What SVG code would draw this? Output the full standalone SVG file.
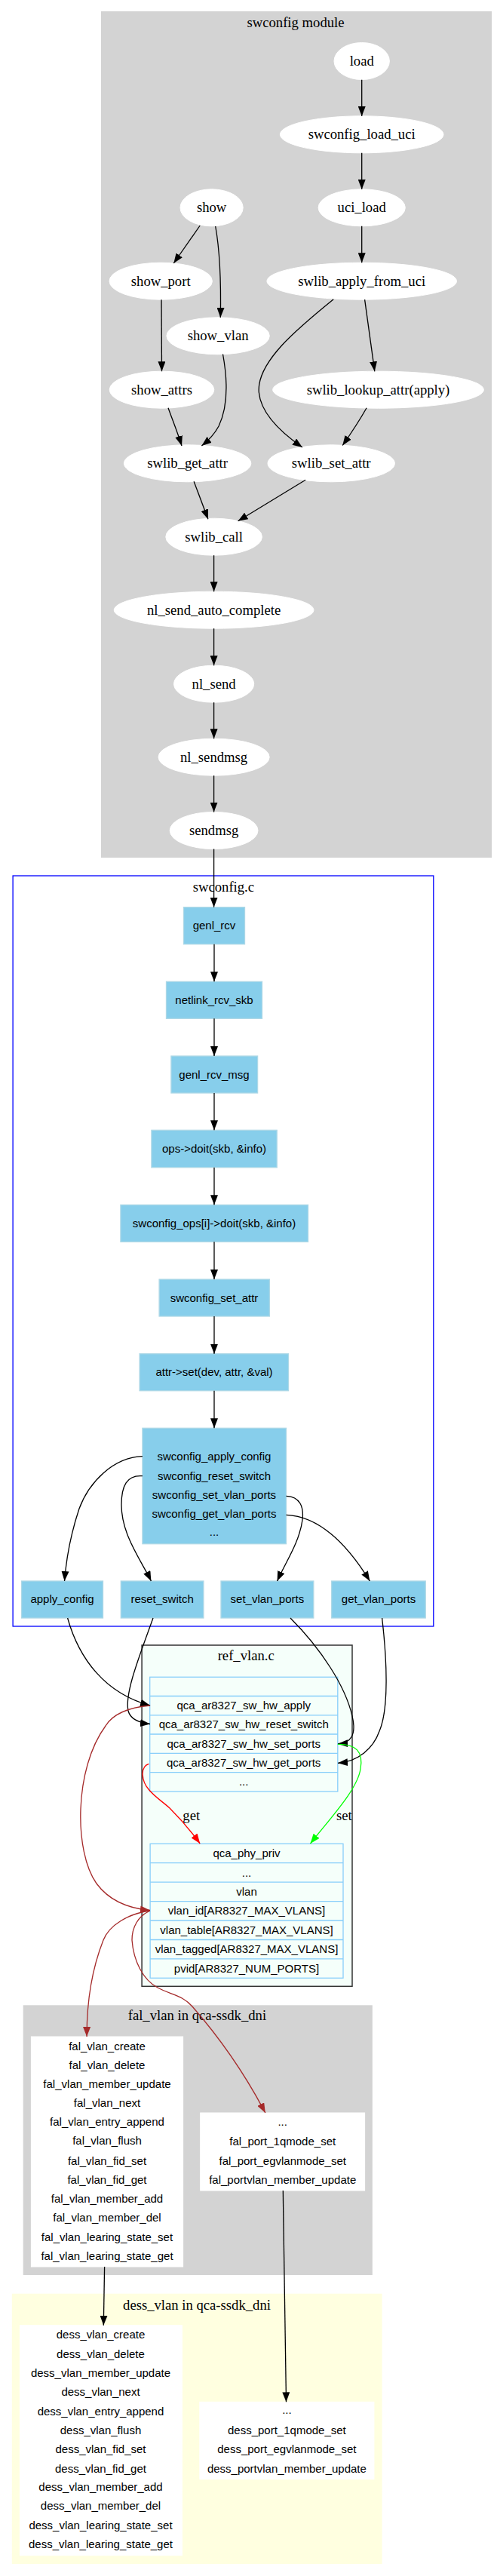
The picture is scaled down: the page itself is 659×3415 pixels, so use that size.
<svg xmlns="http://www.w3.org/2000/svg" width="659" height="3415" viewBox="0 0 659 3415">
<style>
.serif{font-family:"Liberation Serif","Times New Roman",serif;font-size:18.67px;fill:#000;text-anchor:middle}
.sans{font-family:"Liberation Sans",Arial,sans-serif;font-size:15px;fill:#000;text-anchor:middle}
.ell{fill:#fff;stroke:#fff}
.box{fill:#87ceeb;stroke:#add8e6;stroke-width:1.3}
.rec{fill:#f5fffa;stroke:#87cefa;stroke-width:1.3}
.wbox{fill:#fff;stroke:#fff}
.e{fill:none;stroke:#000;stroke-width:1.3}
</style>
<defs>
<marker id="ak" markerWidth="14" markerHeight="10" refX="13" refY="5" orient="auto" markerUnits="userSpaceOnUse"><path d="M0,0 L13,5 L0,10 z" fill="#000"/></marker>
<marker id="ar" markerWidth="14" markerHeight="10" refX="13" refY="5" orient="auto" markerUnits="userSpaceOnUse"><path d="M0,0 L13,5 L0,10 z" fill="#ff0000"/></marker>
<marker id="ag" markerWidth="14" markerHeight="10" refX="13" refY="5" orient="auto" markerUnits="userSpaceOnUse"><path d="M0,0 L13,5 L0,10 z" fill="#00ff00"/></marker>
<marker id="ab" markerWidth="14" markerHeight="10" refX="13" refY="5" orient="auto" markerUnits="userSpaceOnUse"><path d="M0,0 L13,5 L0,10 z" fill="#a52a2a"/></marker>
</defs>
<rect width="659" height="3415" fill="#fff"/>

<!-- clusters -->
<g id="cluster_swconfig_module">
<rect x="134" y="15" width="518" height="1122" fill="#d3d3d3"/>
<text class="serif" x="392" y="36">swconfig module</text>
</g>
<g id="cluster_swconfig_c">
<rect x="17.1" y="1161" width="557.7" height="995" fill="#fff" stroke="#0000ff" stroke-width="1.3"/>
<text class="serif" x="296.4" y="1182">swconfig.c</text>
</g>
<g id="cluster_ref_vlan">
<rect x="188.1" y="2181" width="278.9" height="452.3" fill="#f5fffa" stroke="#333" stroke-width="1.5"/>
<text class="serif" x="326.2" y="2201">ref_vlan.c</text>
</g>
<g id="cluster_fal_vlan">
<rect x="30.7" y="2658.3" width="463.1" height="357.7" fill="#d3d3d3"/>
<text class="serif" x="261.4" y="2678">fal_vlan in qca-ssdk_dni</text>
</g>
<g id="cluster_dess_vlan">
<rect x="15.8" y="3040.7" width="490.8" height="358.3" fill="#ffffe0"/>
<text class="serif" x="261" y="3062">dess_vlan in qca-ssdk_dni</text>
</g>

<!-- swconfig module nodes -->
<g id="load"><ellipse class="ell" cx="479.7" cy="81" rx="36.7" ry="24.5"/><text class="serif" x="479.7" y="87">load</text></g>
<g id="swconfig_load_uci"><ellipse class="ell" cx="479.7" cy="178.3" rx="108.3" ry="24.5"/><text class="serif" x="479.7" y="184.3">swconfig_load_uci</text></g>
<g id="uci_load"><ellipse class="ell" cx="479.7" cy="275.3" rx="57.6" ry="24.5"/><text class="serif" x="479.7" y="281.3">uci_load</text></g>
<g id="show"><ellipse class="ell" cx="280.6" cy="275.3" rx="41.6" ry="24.5"/><text class="serif" x="280.6" y="281.3">show</text></g>
<g id="show_port"><ellipse class="ell" cx="213.2" cy="372.7" rx="68.2" ry="24.5"/><text class="serif" x="213.2" y="378.7">show_port</text></g>
<g id="swlib_apply_from_uci"><ellipse class="ell" cx="479.7" cy="372.7" rx="125.8" ry="24.5"/><text class="serif" x="479.7" y="378.7">swlib_apply_from_uci</text></g>
<g id="show_vlan"><ellipse class="ell" cx="289.1" cy="445.3" rx="68.2" ry="24.5"/><text class="serif" x="289.1" y="451.3">show_vlan</text></g>
<g id="show_attrs"><ellipse class="ell" cx="214.5" cy="516.7" rx="69.3" ry="24.5"/><text class="serif" x="214.5" y="522.7">show_attrs</text></g>
<g id="swlib_lookup_attr"><ellipse class="ell" cx="501.5" cy="516.7" rx="139.9" ry="24.5"/><text class="serif" x="501.5" y="522.7">swlib_lookup_attr(apply)</text></g>
<g id="swlib_get_attr"><ellipse class="ell" cx="248.6" cy="614.3" rx="84.2" ry="24.5"/><text class="serif" x="248.6" y="620.3">swlib_get_attr</text></g>
<g id="swlib_set_attr"><ellipse class="ell" cx="439.2" cy="614.3" rx="84.2" ry="24.5"/><text class="serif" x="439.2" y="620.3">swlib_set_attr</text></g>
<g id="swlib_call"><ellipse class="ell" cx="283.6" cy="711.7" rx="63.8" ry="24.5"/><text class="serif" x="283.6" y="717.7">swlib_call</text></g>
<g id="nl_send_auto_complete"><ellipse class="ell" cx="283.6" cy="808.7" rx="132.4" ry="24.5"/><text class="serif" x="283.6" y="814.7">nl_send_auto_complete</text></g>
<g id="nl_send"><ellipse class="ell" cx="283.6" cy="906.7" rx="53.1" ry="24.5"/><text class="serif" x="283.6" y="912.7">nl_send</text></g>
<g id="nl_sendmsg"><ellipse class="ell" cx="283.6" cy="1003.7" rx="73.6" ry="24.5"/><text class="serif" x="283.6" y="1009.7">nl_sendmsg</text></g>
<g id="sendmsg"><ellipse class="ell" cx="283.6" cy="1101" rx="58.4" ry="24.5"/><text class="serif" x="283.6" y="1107">sendmsg</text></g>

<!-- swconfig.c nodes -->
<g id="genl_rcv"><rect class="box" x="243.5" y="1202.7" width="81" height="49"/><text class="sans" x="284" y="1232">genl_rcv</text></g>
<g id="netlink_rcv_skb"><rect class="box" x="220.5" y="1301.3" width="127" height="49"/><text class="sans" x="284" y="1331">netlink_rcv_skb</text></g>
<g id="genl_rcv_msg"><rect class="box" x="226.9" y="1400" width="114.7" height="49"/><text class="sans" x="284" y="1429.5">genl_rcv_msg</text></g>
<g id="ops_doit"><rect class="box" x="200.9" y="1498.3" width="166.3" height="49.4"/><text class="sans" x="284" y="1528">ops-&gt;doit(skb, &amp;info)</text></g>
<g id="swconfig_ops_doit"><rect class="box" x="159.9" y="1597.3" width="248.6" height="49"/><text class="sans" x="284" y="1627">swconfig_ops[i]-&gt;doit(skb, &amp;info)</text></g>
<g id="swconfig_set_attr"><rect class="box" x="211.1" y="1696" width="146.3" height="49"/><text class="sans" x="284" y="1725.5">swconfig_set_attr</text></g>
<g id="attr_set"><rect class="box" x="185.1" y="1794.7" width="197.4" height="49"/><text class="sans" x="284" y="1824.2">attr-&gt;set(dev, attr, &amp;val)</text></g>
<g id="swconfig_funcs"><rect class="box" x="188.9" y="1893.3" width="190.6" height="153.4"/>
<text class="sans" x="284" y="1935.7">swconfig_apply_config</text>
<text class="sans" x="284" y="1961.7">swconfig_reset_switch</text>
<text class="sans" x="284" y="1986.7">swconfig_set_vlan_ports</text>
<text class="sans" x="284" y="2011.7">swconfig_get_vlan_ports</text>
<text class="sans" x="284" y="2036">...</text></g>
<g id="apply_config"><rect class="box" x="28.6" y="2096" width="107.9" height="49"/><text class="sans" x="82.5" y="2125">apply_config</text></g>
<g id="reset_switch"><rect class="box" x="160.3" y="2096" width="109.6" height="49"/><text class="sans" x="215.1" y="2125">reset_switch</text></g>
<g id="set_vlan_ports"><rect class="box" x="293" y="2096" width="122.8" height="49"/><text class="sans" x="354.4" y="2125">set_vlan_ports</text></g>
<g id="get_vlan_ports"><rect class="box" x="439.7" y="2096" width="124.5" height="49"/><text class="sans" x="502" y="2125">get_vlan_ports</text></g>

<!-- ref_vlan.c records -->
<g id="qca_ops">
<rect class="rec" x="198.7" y="2223.3" width="249.1" height="151.7"/>
<path d="M198.7,2248.5 H447.8 M198.7,2273.8 H447.8 M198.7,2299 H447.8 M198.7,2324.3 H447.8 M198.7,2349.6 H447.8" stroke="#87cefa" stroke-width="1.3" fill="none"/>
<text class="sans" x="323.2" y="2266.2">qca_ar8327_sw_hw_apply</text>
<text class="sans" x="323.2" y="2291.4">qca_ar8327_sw_hw_reset_switch</text>
<text class="sans" x="323.2" y="2316.7">qca_ar8327_sw_hw_set_ports</text>
<text class="sans" x="323.2" y="2342">qca_ar8327_sw_hw_get_ports</text>
<text class="sans" x="323.2" y="2367.3">...</text>
</g>
<g id="qca_phy_priv">
<rect class="rec" x="199.1" y="2444.3" width="255.9" height="178"/>
<path d="M199.1,2469.7 H455 M199.1,2495.2 H455 M199.1,2520.6 H455 M199.1,2546 H455 M199.1,2571.5 H455 M199.1,2596.9 H455" stroke="#87cefa" stroke-width="1.3" fill="none"/>
<text class="sans" x="327" y="2462">qca_phy_priv</text>
<text class="sans" x="327" y="2487.5">...</text>
<text class="sans" x="327" y="2513">vlan</text>
<text class="sans" x="327" y="2538.3">vlan_id[AR8327_MAX_VLANS]</text>
<text class="sans" x="327" y="2563.8">vlan_table[AR8327_MAX_VLANS]</text>
<text class="sans" x="327" y="2589.2">vlan_tagged[AR8327_MAX_VLANS]</text>
<text class="sans" x="327" y="2614.6">pvid[AR8327_NUM_PORTS]</text>
</g>

<!-- fal_vlan nodes -->
<g id="fal_vlan_funcs"><rect class="wbox" x="41.4" y="2700" width="201.2" height="305"/>
<text class="sans" x="142" y="2717.7">fal_vlan_create</text>
<text class="sans" x="142" y="2742.7">fal_vlan_delete</text>
<text class="sans" x="142" y="2767.7">fal_vlan_member_update</text>
<text class="sans" x="142" y="2793">fal_vlan_next</text>
<text class="sans" x="142" y="2818">fal_vlan_entry_append</text>
<text class="sans" x="142" y="2843.3">fal_vlan_flush</text>
<text class="sans" x="142" y="2870">fal_vlan_fid_set</text>
<text class="sans" x="142" y="2895">fal_vlan_fid_get</text>
<text class="sans" x="142" y="2920">fal_vlan_member_add</text>
<text class="sans" x="142" y="2945.3">fal_vlan_member_del</text>
<text class="sans" x="142" y="2970.7">fal_vlan_learing_state_set</text>
<text class="sans" x="142" y="2995.7">fal_vlan_learing_state_get</text>
</g>
<g id="fal_port_funcs"><rect class="wbox" x="265.7" y="2801" width="217.9" height="103"/>
<text class="sans" x="374.7" y="2818">...</text>
<text class="sans" x="374.7" y="2844">fal_port_1qmode_set</text>
<text class="sans" x="374.7" y="2870">fal_port_egvlanmode_set</text>
<text class="sans" x="374.7" y="2895">fal_portvlan_member_update</text>
</g>

<!-- dess_vlan nodes -->
<g id="dess_vlan_funcs"><rect class="wbox" x="26.4" y="3082.7" width="215" height="305"/>
<text class="sans" x="133.5" y="3100">dess_vlan_create</text>
<text class="sans" x="133.5" y="3125.7">dess_vlan_delete</text>
<text class="sans" x="133.5" y="3151">dess_vlan_member_update</text>
<text class="sans" x="133.5" y="3175.7">dess_vlan_next</text>
<text class="sans" x="133.5" y="3201.7">dess_vlan_entry_append</text>
<text class="sans" x="133.5" y="3226.7">dess_vlan_flush</text>
<text class="sans" x="133.5" y="3251.7">dess_vlan_fid_set</text>
<text class="sans" x="133.5" y="3277.7">dess_vlan_fid_get</text>
<text class="sans" x="133.5" y="3302.3">dess_vlan_member_add</text>
<text class="sans" x="133.5" y="3327.3">dess_vlan_member_del</text>
<text class="sans" x="133.5" y="3353">dess_vlan_learing_state_set</text>
<text class="sans" x="133.5" y="3378.3">dess_vlan_learing_state_get</text>
</g>
<g id="dess_port_funcs"><rect class="wbox" x="264.8" y="3184.3" width="231.1" height="102.4"/>
<text class="sans" x="380.4" y="3200">...</text>
<text class="sans" x="380.4" y="3226.7">dess_port_1qmode_set</text>
<text class="sans" x="380.4" y="3251.7">dess_port_egvlanmode_set</text>
<text class="sans" x="380.4" y="3277.7">dess_portvlan_member_update</text>
</g>

<!-- connectors -->
<g id="connectors">
<path class="e" marker-end="url(#ak)" d="M479.7,105.7 L479.7,154"/>
<path class="e" marker-end="url(#ak)" d="M479.7,202.8 L479.7,251"/>
<path class="e" marker-end="url(#ak)" d="M479.7,299.8 L479.7,348.3"/>
<path class="e" marker-end="url(#ak)" d="M265.2,299 L230.3,349"/>
<path class="e" marker-end="url(#ak)" d="M285.7,300 C292,335 293,385 292.3,421"/>
<path class="e" marker-end="url(#ak)" d="M214,397.2 L214.5,492.3"/>
<path class="e" marker-end="url(#ak)" d="M295.5,469.5 C302,505 302,540 290,565 C283,578 275,585 267.4,591"/>
<path class="e" marker-end="url(#ak)" d="M223,540.7 C230,560 236,575 241,591"/>
<path class="e" marker-end="url(#ak)" d="M442.2,396.7 C395,435 340,480 343.3,520 C346,550 375,575 400.9,593"/>
<path class="e" marker-end="url(#ak)" d="M483.6,397.2 L496.8,492.3"/>
<path class="e" marker-end="url(#ak)" d="M486.1,540.7 C478,555 465,575 454.2,590.5"/>
<path class="e" marker-end="url(#ak)" d="M257.1,638.3 L275.9,688.3"/>
<path class="e" marker-end="url(#ak)" d="M405.1,636.3 L315.6,690.7"/>
<path class="e" marker-end="url(#ak)" d="M283.6,736.2 L283.6,784.3"/>
<path class="e" marker-end="url(#ak)" d="M283.6,833.2 L283.6,882.3"/>
<path class="e" marker-end="url(#ak)" d="M283.6,931.2 L283.6,979.3"/>
<path class="e" marker-end="url(#ak)" d="M283.6,1028.2 L283.6,1076.6"/>
<path class="e" marker-end="url(#ak)" d="M283.6,1125.5 L283.6,1202.7"/>
<path class="e" marker-end="url(#ak)" d="M284,1251.7 L284,1301.3"/>
<path class="e" marker-end="url(#ak)" d="M284,1350.3 L284,1400"/>
<path class="e" marker-end="url(#ak)" d="M284,1449 L284,1498.3"/>
<path class="e" marker-end="url(#ak)" d="M284,1547.7 L284,1597.3"/>
<path class="e" marker-end="url(#ak)" d="M284,1646.3 L284,1696"/>
<path class="e" marker-end="url(#ak)" d="M284,1745 L284,1794.7"/>
<path class="e" marker-end="url(#ak)" d="M284,1843.7 L284,1893.3"/>
<path class="e" marker-end="url(#ak)" d="M188.9,1930.7 C150,1932 118,1965 105,2000 C95,2030 88,2065 85.5,2096"/>
<path class="e" marker-end="url(#ak)" d="M188.9,1956.7 C168,1955 161,1970 161,1995 C161,2035 188,2070 200.4,2096"/>
<path class="e" marker-end="url(#ak)" d="M379.5,1983.3 C398,1984 403,1998 401,2015 C397,2045 378,2072 367.6,2096"/>
<path class="e" marker-end="url(#ak)" d="M379.5,2008.3 C425,2010 462,2050 490.4,2096"/>
<path class="e" marker-end="url(#ak)" d="M89.6,2145 C105,2200 140,2245 199,2261"/>
<path class="e" marker-end="url(#ak)" d="M203,2145 C185,2195 165,2245 170,2268 C173,2280 185,2284 199,2285.5"/>
<path class="e" marker-end="url(#ak)" d="M385,2145 C425,2185 458,2235 467,2275 C473,2300 465,2311 448,2311.7"/>
<path class="e" marker-end="url(#ak)" d="M506.6,2145 C513,2200 516,2265 503,2295 C495,2318 475,2335 448,2337.3"/>
<path fill="none" stroke="#ff0000" stroke-width="1.3" marker-end="url(#ar)" d="M197.4,2338.3 C185,2342 188,2362 197,2372 C205,2382 215,2388 225,2397 C240,2412 255,2430 265.2,2444"/>
<text class="serif" x="253.7" y="2413">get</text>
<path fill="none" stroke="#00ff00" stroke-width="1.3" marker-end="url(#ag)" d="M447.8,2312.3 C472,2312 482,2322 478,2345 C474,2372 440,2408 411.5,2444"/>
<text class="serif" x="456.3" y="2413">set</text>
<path fill="none" stroke="#a52a2a" stroke-width="1.3" marker-end="url(#ab)" d="M199.1,2261 C165,2264 148,2275 140,2288 C98,2345 98,2455 128,2497 C145,2520 170,2530 199,2532.5"/>
<path fill="none" stroke="#a52a2a" stroke-width="1.3" marker-end="url(#ab)" d="M199,2533 C170,2537 145,2552 137,2572 C120,2615 115,2660 115.1,2700"/>
<path fill="none" stroke="#a52a2a" stroke-width="1.3" marker-end="url(#ab)" d="M199,2533 C183,2540 175,2555 175,2572 C177,2600 190,2625 209,2635 C228,2645 242,2645 255,2660 C290,2700 325,2750 351.8,2801"/>
<path class="e" marker-end="url(#ak)" d="M138.6,3005 L137.3,3082.7"/>
<path class="e" marker-end="url(#ak)" d="M375.3,2904 L379.5,3184.3"/>
</g>
</svg>
